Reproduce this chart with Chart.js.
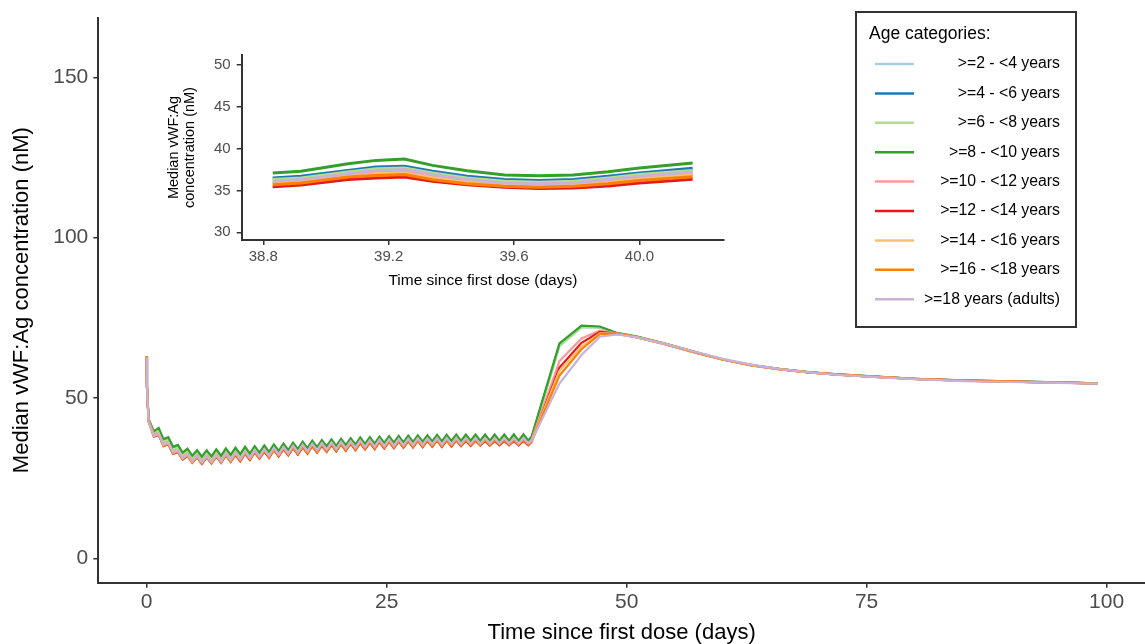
<!DOCTYPE html>
<html>
<head>
<meta charset="utf-8">
<script src="https://cdn.jsdelivr.net/npm/chart.js@4.4.1/dist/chart.umd.min.js"></script>
<style>
  html, body { margin: 0; padding: 0; background: #fff; }
  #wrap { position: relative; width: 1145px; height: 644px; overflow: hidden; }
  #main { position: absolute; left: 0; top: 0; }
  #inset { position: absolute; left: 150px; top: 40px; }
</style>
</head>
<body>
<div id="wrap">
  <canvas id="main" width="1145" height="644"></canvas>
  <canvas id="inset" width="590" height="262"></canvas>
</div>
<script>
const FONT = "'Liberation Sans', Arial, sans-serif";

const LEGEND_TITLE = 'Age categories:';
const LABELS = ['>=2 - <4 years', '>=4 - <6 years', '>=6 - <8 years', '>=8 - <10 years',
  '>=10 - <12 years', '>=12 - <14 years', '>=14 - <16 years', '>=16 - <18 years', '>=18 years (adults)'];
const COLORS = ['#A6CEE3', '#1F78B4', '#B2DF8A', '#33A02C', '#FB9A99', '#E31A1C', '#FDBF6F', '#FF7F00', '#CAB2D6'];

const X_TICKS = [0, 25, 50, 75, 100];
const Y_TICKS = [0, 50, 100, 150];
const INSET_X_TICKS = [38.8, 39.2, 39.6, 40.0];
const INSET_Y_TICKS = [30, 35, 40, 45, 50];

// main plot: time since first dose (days)
const DAYS = [0, 0.03, 0.2, 0.75,
  1.25, 1.75, 2.25, 2.75, 3.25, 3.75, 4.25, 4.75, 5.25, 5.75,
  6.25, 6.75, 7.25, 7.75, 8.25, 8.75, 9.25, 9.75, 10.25, 10.75,
  11.25, 11.75, 12.25, 12.75, 13.25, 13.75, 14.25, 14.75, 15.25, 15.75,
  16.25, 16.75, 17.25, 17.75, 18.25, 18.75, 19.25, 19.75, 20.25, 20.75,
  21.25, 21.75, 22.25, 22.75, 23.25, 23.75, 24.25, 24.75, 25.25, 25.75,
  26.25, 26.75, 27.25, 27.75, 28.25, 28.75, 29.25, 29.75, 30.25, 30.75,
  31.25, 31.75, 32.25, 32.75, 33.25, 33.75, 34.25, 34.75, 35.25, 35.75,
  36.25, 36.75, 37.25, 37.75, 38.25, 38.75, 39.25, 39.75,
  40.1, 43, 45.3, 47.2, 49, 51, 54, 57, 60, 63, 66, 69, 72, 76, 80, 85, 90, 95, 99.1];

const age2to4 = [62.8, 53.4, 42.8, 38.8,
  39.8, 36.3, 36.9, 33.9, 34.5, 32.1, 33.3, 31.1, 32.8, 30.8,
  32.8, 30.9, 33.1, 31.1, 33.4, 31.4, 33.6, 31.6, 33.9, 31.8,
  34.3, 32.3, 34.5, 32.5, 34.8, 32.8, 35.1, 33.1, 35.4, 33.4,
  35.7, 33.7, 36.0, 34.0, 36.2, 34.2, 36.4, 34.4, 36.6, 34.6,
  36.8, 34.8, 37.0, 35.0, 37.1, 35.1, 37.3, 35.3, 37.4, 35.4,
  37.5, 35.5, 37.6, 35.6, 37.7, 35.7, 37.7, 35.8, 37.8, 35.8,
  37.8, 35.9, 37.8, 35.9, 37.8, 36.0, 37.8, 36.0, 37.8, 36.1,
  37.8, 36.1, 37.8, 36.1, 37.8, 36.1, 37.8, 36.2,
  37.4, 66.2, 72.0, 72.0, 70.2, 69.1, 66.9, 64.4, 62.0, 60.3, 59.0, 58.0, 57.3, 56.6, 56.0, 55.4, 55.1, 54.8, 54.6];

const age4to6 = [62.9, 53.5, 43.0, 39.0,
  40.0, 36.5, 37.1, 34.1, 34.7, 32.3, 33.5, 31.3, 33.0, 31.0,
  33.0, 31.1, 33.3, 31.3, 33.6, 31.6, 33.8, 31.8, 34.1, 32.0,
  34.5, 32.5, 34.7, 32.7, 35.0, 33.0, 35.3, 33.3, 35.6, 33.6,
  35.9, 33.9, 36.2, 34.2, 36.4, 34.4, 36.6, 34.6, 36.8, 34.8,
  37.0, 35.0, 37.2, 35.2, 37.3, 35.3, 37.5, 35.5, 37.6, 35.6,
  37.7, 35.7, 37.8, 35.8, 37.9, 35.9, 37.9, 36.0, 38.0, 36.0,
  38.0, 36.1, 38.0, 36.1, 38.0, 36.2, 38.0, 36.2, 37.9, 36.2,
  37.9, 36.2, 37.9, 36.2, 37.9, 36.2, 37.9, 36.3,
  37.6, 66.6, 72.3, 72.1, 70.2, 69.1, 66.9, 64.4, 62.0, 60.3, 59.0, 58.0, 57.4, 56.7, 56.0, 55.5, 55.2, 54.9, 54.6];

const age6to8 = [62.9, 53.6, 43.2, 39.2,
  39.9, 36.4, 37.0, 34.0, 34.6, 32.2, 33.4, 31.2, 32.9, 30.9,
  32.9, 31.0, 33.2, 31.2, 33.5, 31.5, 33.7, 31.7, 34.0, 31.9,
  34.4, 32.4, 34.6, 32.6, 34.9, 32.9, 35.2, 33.2, 35.5, 33.5,
  35.8, 33.8, 36.1, 34.1, 36.3, 34.3, 36.5, 34.5, 36.7, 34.7,
  36.9, 34.9, 37.1, 35.1, 37.2, 35.2, 37.4, 35.4, 37.5, 35.5,
  37.6, 35.6, 37.7, 35.7, 37.8, 35.8, 37.8, 35.9, 37.9, 35.9,
  37.9, 36.0, 37.9, 36.0, 37.8, 36.0, 37.8, 36.0, 37.7, 36.0,
  37.7, 36.0, 37.7, 36.0, 37.7, 36.0, 37.7, 36.1,
  37.3, 66.3, 72.1, 72.0, 70.2, 69.1, 66.9, 64.4, 62.0, 60.3, 59.0, 58.0, 57.3, 56.6, 56.0, 55.4, 55.1, 54.8, 54.6];

const age8to10 = [63.0, 53.8, 43.5, 39.6,
  40.7, 37.2, 37.8, 34.8, 35.4, 33.0, 34.2, 32.0, 33.7, 31.7,
  33.7, 31.8, 34.0, 32.0, 34.3, 32.3, 34.5, 32.5, 34.8, 32.7,
  35.0, 33.0, 35.2, 33.2, 35.5, 33.5, 35.8, 33.8, 36.1, 34.1,
  36.4, 34.4, 36.7, 34.7, 36.9, 34.9, 37.1, 35.1, 37.3, 35.3,
  37.5, 35.5, 37.7, 35.7, 37.8, 35.8, 38.0, 36.0, 38.1, 36.1,
  38.2, 36.2, 38.3, 36.3, 38.4, 36.4, 38.4, 36.5, 38.5, 36.5,
  38.5, 36.6, 38.6, 36.6, 38.6, 36.7, 38.6, 36.7, 38.6, 36.7,
  38.6, 36.7, 38.6, 36.7, 38.7, 36.7, 38.7, 36.8,
  38.0, 67.0, 72.6, 72.3, 70.3, 69.2, 67.0, 64.5, 62.0, 60.3, 59.0, 58.1, 57.4, 56.7, 56.0, 55.5, 55.2, 54.9, 54.6];

const age10to12 = [63.0, 53.8, 43.0, 38.6,
  39.1, 35.6, 36.2, 33.2, 33.8, 31.4, 32.6, 30.4, 32.1, 30.1,
  32.1, 30.2, 32.4, 30.4, 32.7, 30.7, 32.9, 30.9, 33.3, 31.3,
  33.7, 31.7, 34.0, 32.0, 34.4, 32.4, 34.7, 32.7, 35.0, 33.0,
  35.3, 33.3, 35.6, 33.6, 35.8, 33.8, 36.0, 34.0, 36.2, 34.2,
  36.4, 34.4, 36.6, 34.6, 36.7, 34.7, 36.9, 34.9, 37.0, 35.0,
  37.1, 35.1, 37.2, 35.2, 37.3, 35.3, 37.3, 35.4, 37.4, 35.4,
  37.4, 35.5, 37.5, 35.5, 37.4, 35.6, 37.4, 35.6, 37.4, 35.7,
  37.4, 35.7, 37.4, 35.7, 37.4, 35.7, 37.4, 35.8,
  36.9, 61.5, 68.6, 71.0, 70.2, 69.0, 66.8, 64.3, 62.0, 60.2, 58.9, 58.0, 57.3, 56.6, 56.0, 55.4, 55.1, 54.8, 54.6];

const age12to14 = [62.9, 53.5, 42.6, 38.0,
  38.5, 35.0, 35.6, 32.6, 33.2, 30.8, 32.0, 29.8, 31.5, 29.5,
  31.5, 29.6, 31.8, 29.8, 32.1, 30.1, 32.3, 30.3, 32.7, 30.7,
  33.1, 31.1, 33.4, 31.4, 33.8, 31.8, 34.1, 32.1, 34.4, 32.4,
  34.7, 32.7, 35.0, 33.0, 35.2, 33.2, 35.4, 33.4, 35.6, 33.6,
  35.8, 33.8, 36.0, 34.0, 36.1, 34.1, 36.3, 34.3, 36.4, 34.4,
  36.5, 34.5, 36.6, 34.6, 36.7, 34.7, 36.7, 34.8, 36.8, 34.8,
  36.8, 34.9, 36.8, 35.0, 36.7, 35.1, 36.7, 35.2, 36.6, 35.2,
  36.6, 35.3, 36.6, 35.3, 36.6, 35.3, 36.6, 35.3,
  36.3, 59.5, 67.2, 70.6, 70.1, 69.0, 66.8, 64.3, 62.0, 60.2, 58.9, 58.0, 57.3, 56.6, 56.0, 55.4, 55.1, 54.8, 54.6];

const age14to16 = [62.9, 53.6, 42.8, 38.3,
  38.8, 35.3, 35.9, 32.9, 33.5, 31.1, 32.3, 30.1, 31.8, 29.8,
  31.8, 29.9, 32.1, 30.1, 32.4, 30.4, 32.7, 30.7, 33.1, 31.1,
  33.5, 31.5, 33.8, 31.8, 34.2, 32.2, 34.5, 32.5, 34.8, 32.8,
  35.1, 33.1, 35.4, 33.4, 35.6, 33.6, 35.8, 33.8, 36.0, 34.0,
  36.2, 34.2, 36.4, 34.4, 36.5, 34.5, 36.7, 34.7, 36.8, 34.8,
  36.9, 34.9, 37.0, 35.0, 37.1, 35.1, 37.1, 35.2, 37.2, 35.2,
  37.2, 35.3, 37.2, 35.4, 37.1, 35.5, 37.1, 35.5, 37.1, 35.6,
  37.1, 35.6, 37.1, 35.6, 37.1, 35.6, 37.1, 35.7,
  36.6, 58.5, 66.0, 70.2, 70.1, 69.0, 66.8, 64.3, 62.0, 60.2, 58.9, 58.0, 57.3, 56.6, 56.0, 55.4, 55.1, 54.8, 54.6];

const age16to18 = [63.1, 53.9, 43.0, 38.2,
  38.6, 35.1, 35.7, 32.7, 33.3, 30.9, 32.1, 29.9, 31.6, 29.6,
  31.6, 29.7, 31.9, 29.9, 32.2, 30.2, 32.5, 30.5, 32.9, 30.9,
  33.3, 31.3, 33.6, 31.6, 34.0, 32.0, 34.3, 32.3, 34.6, 32.6,
  34.9, 32.9, 35.2, 33.2, 35.4, 33.4, 35.6, 33.6, 35.8, 33.8,
  36.0, 34.0, 36.2, 34.2, 36.3, 34.3, 36.5, 34.5, 36.6, 34.6,
  36.7, 34.7, 36.8, 34.8, 36.9, 34.9, 36.9, 35.0, 37.0, 35.0,
  37.0, 35.1, 37.0, 35.2, 36.9, 35.3, 36.9, 35.4, 36.9, 35.4,
  36.9, 35.5, 36.9, 35.5, 36.9, 35.5, 36.9, 35.5,
  36.5, 57.0, 65.2, 69.9, 70.0, 69.0, 66.9, 64.4, 62.1, 60.3, 59.0, 58.0, 57.3, 56.6, 56.0, 55.4, 55.1, 54.8, 54.6];

const adults = [62.7, 53.2, 42.5, 38.2,
  38.9, 35.4, 36.0, 33.0, 33.6, 31.2, 32.4, 30.2, 31.9, 29.9,
  31.9, 30.0, 32.2, 30.2, 32.6, 30.6, 32.9, 30.9, 33.3, 31.3,
  33.7, 31.7, 34.0, 32.0, 34.4, 32.4, 34.7, 32.7, 35.1, 33.1,
  35.4, 33.4, 35.7, 33.7, 35.9, 33.9, 36.1, 34.1, 36.3, 34.3,
  36.5, 34.5, 36.7, 34.7, 36.8, 34.8, 37.0, 35.0, 37.1, 35.1,
  37.2, 35.2, 37.3, 35.3, 37.4, 35.4, 37.4, 35.5, 37.5, 35.5,
  37.5, 35.6, 37.5, 35.6, 37.5, 35.7, 37.5, 35.7, 37.5, 35.8,
  37.5, 35.8, 37.5, 35.8, 37.5, 35.8, 37.5, 35.9,
  36.7, 54.5, 63.4, 69.1, 69.8, 69.0, 66.9, 64.5, 62.2, 60.4, 59.0, 58.0, 57.2, 56.5, 55.9, 55.3, 55.0, 54.7, 54.5];

// inset: zoom on days 38.8 - 40.2
const INSET_DAYS = [38.83, 38.92, 39.07, 39.16, 39.25, 39.34, 39.45, 39.57, 39.68, 39.79, 39.9, 40.0, 40.17];
const inset2to4   = [36.4, 36.6, 37.3, 37.7, 37.8, 37.2, 36.6, 36.2, 36.1, 36.2, 36.6, 37.0, 37.5];
const inset4to6   = [36.5, 36.7, 37.4, 37.8, 37.9, 37.3, 36.7, 36.3, 36.2, 36.3, 36.7, 37.1, 37.65];
const inset6to8   = [36.3, 36.5, 37.2, 37.6, 37.7, 37.1, 36.5, 36.1, 36.0, 36.1, 36.5, 36.9, 37.4];
const inset8to10  = [37.1, 37.3, 38.2, 38.6, 38.75, 38.0, 37.35, 36.85, 36.75, 36.85, 37.25, 37.7, 38.3];
const inset10to12 = [36.0, 36.2, 36.9, 37.3, 37.4, 36.8, 36.2, 35.8, 35.7, 35.8, 36.2, 36.6, 37.1];
const inset12to14 = [35.45, 35.65, 36.3, 36.5, 36.6, 36.1, 35.7, 35.4, 35.25, 35.3, 35.55, 35.9, 36.35];
const inset14to16 = [35.9, 36.1, 36.7, 37.0, 37.1, 36.5, 36.0, 35.7, 35.6, 35.7, 36.0, 36.4, 36.9];
const inset16to18 = [35.7, 35.9, 36.6, 36.8, 36.9, 36.3, 35.8, 35.5, 35.4, 35.5, 35.8, 36.2, 36.65];
const insetAdults = [36.1, 36.3, 37.0, 37.4, 37.5, 36.9, 36.3, 35.9, 35.8, 35.9, 36.3, 36.7, 37.2];

const MAIN_SERIES = [age2to4, age4to6, age6to8, age8to10, age10to12, age12to14, age14to16, age16to18, adults];
const INSET_SERIES = [inset2to4, inset4to6, inset6to8, inset8to10, inset10to12, inset12to14, inset14to16, inset16to18, insetAdults];

function buildSets(days, series, width) {
  return series.map((vals, i) => ({
    label: LABELS[i],
    data: vals.map((v, k) => ({ x: days[k], y: v })),
    borderColor: COLORS[i],
    backgroundColor: COLORS[i],
    borderWidth: width,
    pointRadius: 0,
    tension: 0,
    fill: false,
    order: series.length - i   // later groups drawn on top, like ggplot
  }));
}

// boxed legend in the top right corner
const legendBox = {
  id: 'legendBox',
  afterDraw(chart) {
    const ctx = chart.ctx;
    ctx.save();
    ctx.fillStyle = '#fff';
    ctx.fillRect(856, 12, 220, 315);
    ctx.strokeStyle = '#333';
    ctx.lineWidth = 2;
    ctx.strokeRect(856, 12, 220, 315);
    ctx.fillStyle = '#000';
    ctx.font = '17.5px ' + FONT;
    ctx.textBaseline = 'middle';
    ctx.textAlign = 'left';
    ctx.fillText(LEGEND_TITLE, 869, 34);
    ctx.font = '15.8px ' + FONT;
    chart.data.datasets.forEach((ds, i) => {
      const y = 64 + i * 29.4;
      ctx.strokeStyle = ds.borderColor;
      ctx.lineWidth = 2.5;
      ctx.beginPath();
      ctx.moveTo(875, y);
      ctx.lineTo(914, y);
      ctx.stroke();
      ctx.textAlign = 'right';
      ctx.fillText(ds.label, 1060, y);
    });
    ctx.restore();
  }
};

function axisOpts(ticks, tickSize, fmt) {
  return {
    type: 'linear',
    afterBuildTicks: s => { s.ticks = ticks.map(v => ({ value: v })); },
    border: { color: '#333', width: 2 },
    grid: { drawOnChartArea: false, drawTicks: true, tickLength: 5, color: '#333', lineWidth: 1.5 },
    ticks: { color: '#4d4d4d', font: { family: FONT, size: tickSize }, autoSkip: false, maxRotation: 0, callback: fmt }
  };
}

const mainX = axisOpts(X_TICKS, 21, v => String(v));
Object.assign(mainX, { min: -5.04, max: 104.0, afterFit: s => { s.height = 61.3; } });
mainX.ticks.padding = 2;
mainX.title = { display: true, text: 'Time since first dose (days)', color: '#000',
  font: { family: FONT, size: 22, lineHeight: 1 }, padding: { top: 0, bottom: 0 } };

const mainY = axisOpts(Y_TICKS, 21, v => String(v));
Object.assign(mainY, { min: -7.57, max: 168.6, afterFit: s => { s.width = 98.3; } });
mainY.ticks.padding = 5;
mainY.title = { display: true, text: 'Median vWF:Ag concentration (nM)', color: '#000',
  font: { family: FONT, size: 22, lineHeight: 1.2 }, padding: { top: 9, bottom: 0 } };

new Chart(document.getElementById('main').getContext('2d'), {
  type: 'line',
  data: { datasets: buildSets(DAYS, MAIN_SERIES, 2.2) },
  options: {
    responsive: false,
    animation: false,
    events: [],
    layout: { padding: { top: 15, right: 0, left: 0, bottom: 0 } },
    plugins: { legend: { display: false }, tooltip: { enabled: false } },
    scales: { x: mainX, y: mainY }
  },
  plugins: [legendBox]
});

const insetX = axisOpts(INSET_X_TICKS, 15, v => v.toFixed(1));
Object.assign(insetX, { min: 38.731, max: 40.27, afterFit: s => { s.height = 62; } });
insetX.ticks.padding = 3;
insetX.title = { display: true, text: 'Time since first dose (days)', color: '#000',
  font: { family: FONT, size: 15.5, lineHeight: 1 }, padding: { top: 0, bottom: 14 } };

const insetY = axisOpts(INSET_Y_TICKS, 15, v => String(v));
Object.assign(insetY, { min: 29.08, max: 51.2, afterFit: s => { s.width = 91.7; } });
insetY.ticks.padding = 6;
insetY.title = { display: true, text: ['Median vWF:Ag', 'concentration (nM)'], color: '#000',
  font: { family: FONT, size: 14.5, lineHeight: 1.1 }, padding: { top: 16, bottom: 0 } };

new Chart(document.getElementById('inset').getContext('2d'), {
  type: 'line',
  data: { datasets: buildSets(INSET_DAYS, INSET_SERIES, 3) },
  options: {
    responsive: false,
    animation: false,
    events: [],
    layout: { padding: { top: 15, right: 16, left: 0, bottom: 0 } },
    plugins: { legend: { display: false }, tooltip: { enabled: false } },
    scales: { x: insetX, y: insetY }
  }
});
</script>
</body>
</html>
